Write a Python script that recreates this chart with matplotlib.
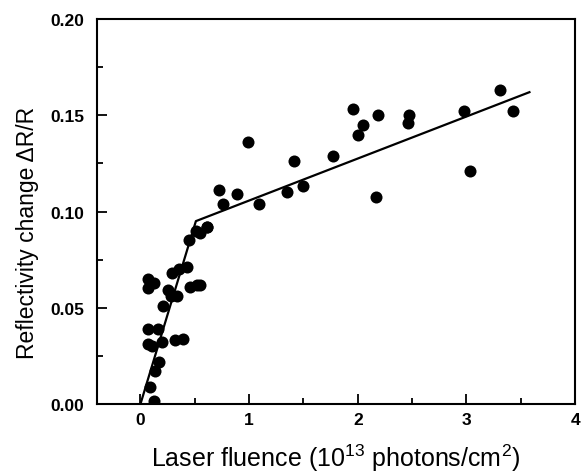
import matplotlib
matplotlib.use("Agg")
import matplotlib.pyplot as plt
from matplotlib.ticker import MultipleLocator, FormatStrFormatter

# Data
fluence = [0.12, 0.09, 0.13, 0.17, 0.07, 0.11, 0.20, 0.07, 0.16, 0.32, 0.39,
           0.21, 0.25, 0.28, 0.34, 0.07, 0.12, 0.07, 0.29, 0.35, 0.43,
           0.46, 0.52, 0.55, 0.45, 0.51, 0.61, 0.55, 0.61,
           0.72, 0.76, 0.89, 0.99, 1.09, 1.35, 1.41, 1.50, 1.77, 1.96,
           2.05, 2.00, 2.19, 2.17, 2.47, 2.46, 2.98, 3.03, 3.31, 3.43]
dR = [0.0015, 0.009, 0.017, 0.022, 0.031, 0.030, 0.032, 0.039, 0.039, 0.033, 0.034,
      0.051, 0.059, 0.056, 0.056, 0.065, 0.063, 0.060, 0.068, 0.070, 0.071,
      0.061, 0.062, 0.062, 0.085, 0.090, 0.092, 0.089, 0.092,
      0.111, 0.104, 0.109, 0.136, 0.104, 0.110, 0.126, 0.113, 0.129, 0.153,
      0.145, 0.140, 0.150, 0.1075, 0.150, 0.146, 0.152, 0.121, 0.163, 0.152]

fit_x = [0.0, 0.51, 3.58]
fit_y = [0.0, 0.095, 0.162]

plt.rcParams['font.family'] = ['Liberation Sans', 'DejaVu Sans']
plt.rcParams['mathtext.fontset'] = 'custom'
plt.rcParams['mathtext.rm'] = 'Liberation Sans'
plt.rcParams['mathtext.it'] = 'Liberation Sans:italic'
plt.rcParams['mathtext.bf'] = 'Liberation Sans:bold'

fig = plt.figure(figsize=(5.88, 4.77), dpi=100)
ax = fig.add_axes([0.165, 0.151, 0.813, 0.807])

ax.scatter(fluence, dR, s=75, color='black', zorder=3, linewidths=0)
ax.plot(fit_x, fit_y, color='black', lw=1.6, zorder=2)

ax.set_xlim(-0.4, 4.0)
ax.set_ylim(0.0, 0.20)
ax.xaxis.set_major_locator(MultipleLocator(1))
ax.xaxis.set_minor_locator(MultipleLocator(0.5))
ax.yaxis.set_major_locator(MultipleLocator(0.05))
ax.yaxis.set_minor_locator(MultipleLocator(0.025))
ax.yaxis.set_major_formatter(FormatStrFormatter('%.2f'))

ax.tick_params(which='both', direction='in', top=False, right=False,
               labelsize=12.5, width=1.3)
ax.tick_params(which='major', length=7)
ax.tick_params(which='minor', length=4.5)
ax.tick_params(axis='x', which='major', pad=6)
ax.tick_params(axis='y', which='major', pad=9)
for lbl in ax.get_xticklabels() + ax.get_yticklabels():
    lbl.set_fontweight('bold')
for sp in ax.spines.values():
    sp.set_linewidth(1.5)

ax.set_xlabel(r'Laser fluence (10$^{\mathregular{13}}$ photons/cm$^{\mathregular{2}}$)',
              fontsize=18, labelpad=10)
ax.set_ylabel('Reflectivity change \u0394R/R', fontsize=16.5)
ax.yaxis.set_label_coords(-0.121, 0.447)

fig.savefig('out.png', dpi=100)
